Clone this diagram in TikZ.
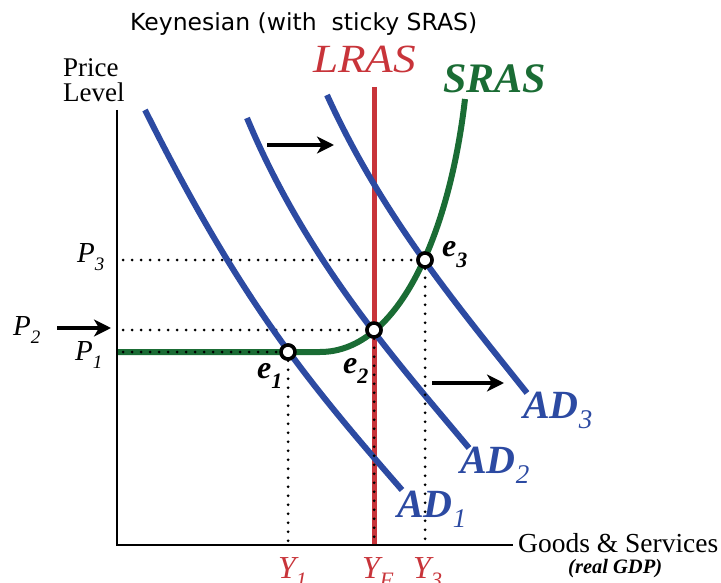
\documentclass[tikz,border=0pt]{standalone}
\usepackage{fontspec}
\setmainfont{Liberation Serif}
\newfontfamily\titlefont{DejaVu Sans}
\usetikzlibrary{arrows.meta}
\definecolor{adblue}{RGB}{44,74,162}
\definecolor{lrasred}{RGB}{200,52,58}
\definecolor{srasgreen}{RGB}{26,108,52}
\newcommand{\fs}[1]{\fontsize{#1}{#1}\selectfont}
\newcommand{\dn}[3]{\raisebox{-#3pt}{\fs{#2}\itshape #1}}

\begin{document}
\begin{tikzpicture}[
  x=1pt, y=-1pt,
  lbl/.style={anchor=base west, inner sep=0pt},
  axis/.style={line width=2.5pt},
  ad/.style={draw=adblue, line width=6pt},
  lras/.style={draw=lrasred, line width=5pt},
  sras/.style={draw=srasgreen, line width=6pt},
  guide/.style={line width=3pt, line cap=round, dash pattern=on 0pt off 9pt},
  shiftarr/.style={-{Stealth[length=17pt, width=17pt, inset=5pt]}, line width=4pt},
  eqpt/.style={circle, draw, fill=white, line width=3.5pt, inner sep=0pt,
               minimum size=14pt}
]
\useasboundingbox (0,0) rectangle (721,583);
\clip (0,0) rectangle (721,583);
% ---- points ----
\coordinate (o)     at (117,545);
\coordinate (ytop)  at (117,110);
\coordinate (xend)  at (513,545);
\coordinate (p1ax)  at (123,352);
\coordinate (p2ax)  at (123,330);
\coordinate (p3ax)  at (123,260);
\coordinate (y1ax)  at (288,545);
\coordinate (yfax)  at (374,545);
\coordinate (y3ax)  at (425,545);
\coordinate (lrtop) at (374,87);
\node[eqpt] (e1) at (288,352) {};
\node[eqpt] (e2) at (374,330) {};
\node[eqpt] (e3) at (425,260) {};
% ---- guides ----
\draw[guide] (p3ax) -- (e3);
\draw[guide] (p2ax) -- (e2);
% ---- curves ----
\draw[lras] (lrtop) -- (yfax);
\draw[sras] (117,352) -- (320,352) .. controls (400,352) and (450,230) .. (465,99);
\draw[ad] (145,110) .. controls (240,300) and (307,381) .. (402,490);
\draw[ad] (247,118) .. controls (307,262) and (399,364) .. (469,448);
\draw[ad] (327,95) .. controls (382,216) and (457,305) .. (527,393);
\draw[guide] (p1ax) -- (e1);
\draw[guide] (e1) -- (y1ax);
\draw[guide] (e2) -- (yfax);
\draw[guide] (e3) -- (y3ax);
\draw[axis] (ytop) -- (o) -- (xend);
\node[eqpt] at (e1) {};
\node[eqpt] at (e2) {};
\node[eqpt] at (e3) {};
% ---- shift arrows ----
\coordinate (s1a) at (267,145);
\coordinate (s1b) at (334,145);
\coordinate (s2a) at (432,383);
\coordinate (s2b) at (504,383);
\coordinate (p2a) at (57,328);
\coordinate (p2b) at (111,328);
\draw[shiftarr] (s1a) -- (s1b);
\draw[shiftarr] (s2a) -- (s2b);
\draw[shiftarr] (p2a) -- (p2b);
% ---- labels ----
\node[lbl] (title) at (130,31) {\titlefont\fs{23.5}Keynesian (with\ \ sticky SRAS)};
\node[lbl, text=lrasred] (lraslbl) at (313,73) {\scalebox{1.13}[1]{\fs{40}\itshape LRAS}};
\node[lbl, text=srasgreen] (sraslbl) at (443,93) {\fs{42}\bfseries\itshape SRAS};
\node[lbl] (price) at (63,77) {\fs{27}Price};
\node[lbl] (level) at (63,102) {\fs{27}Level};
\node[lbl] (p3lbl) at (77,262) {\fs{29}\itshape P\dn{3}{19}{8}};
\node[lbl] (p2lbl) at (13,335) {\fs{29}\itshape P\dn{2}{19}{8}};
\node[lbl] (p1lbl) at (75,360) {\fs{29}\itshape P\dn{1}{19}{8}};
\node[lbl] (e1lbl) at (257,378) {\fs{32}\bfseries\itshape e\dn{1}{22}{10}};
\node[lbl] (e2lbl) at (343,373) {\fs{32}\bfseries\itshape e\dn{2}{22}{10}};
\node[lbl] (e3lbl) at (442,257) {\fs{32}\bfseries\itshape e\dn{3}{22}{10}};
\node[lbl, text=adblue] (ad3lbl) at (523,418) {\fs{40}\bfseries\itshape AD\dn{\mdseries 3}{27}{10}};
\node[lbl, text=adblue] (ad2lbl) at (460,473) {\fs{40}\bfseries\itshape AD\dn{\mdseries 2}{27}{10}};
\node[lbl, text=adblue] (ad1lbl) at (397,517) {\fs{40}\bfseries\itshape AD\dn{\mdseries 1}{27}{10}};
\node[lbl] (goods) at (518,552) {\fs{27.5}Goods \& Services};
\node[lbl] (gdp) at (568,573) {\fs{20.5}\bfseries\itshape (real GDP)};
\node[lbl, text=lrasred] (y1lbl) at (278,578) {\fs{32}\itshape Y\dn{1}{22}{9}};
\node[lbl, text=lrasred] (yflbl) at (362,578) {\fs{32}\itshape Y\dn{F}{22}{9}};
\node[lbl, text=lrasred] (y3lbl) at (413,578) {\fs{32}\itshape Y\dn{3}{22}{9}};
\end{tikzpicture}
\end{document}
